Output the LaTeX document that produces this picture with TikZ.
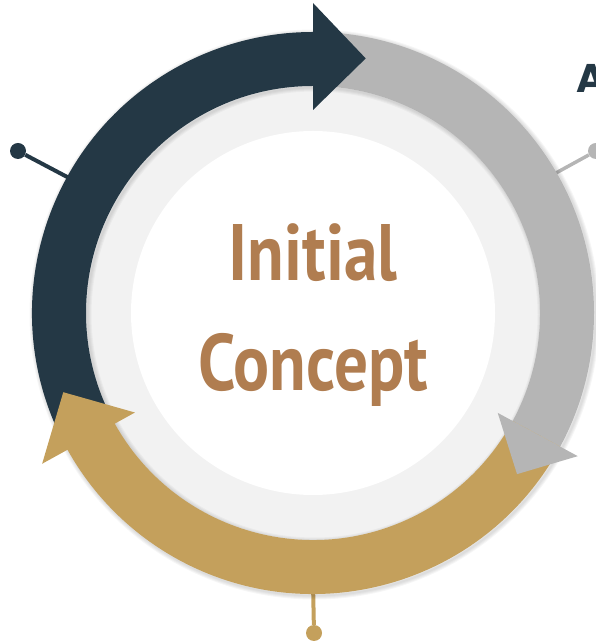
\documentclass[tikz,border=0pt]{standalone}
\usepackage{fontspec}
\newfontfamily\titlefont{PT Sans}[FakeStretch=0.84]
\newfontfamily\headfont{Poppins}
\definecolor{navy}{HTML}{243845}
\definecolor{silver}{HTML}{B5B5B5}
\definecolor{gold}{HTML}{C4A05C}
\definecolor{ringgray}{HTML}{F2F2F2}
\definecolor{bronze}{HTML}{B07D50}

\begin{document}
\begin{tikzpicture}[x=1pt,y=1pt,
  pin/.style={circle,inner sep=0pt,minimum size=16pt},
  title/.style={text=bronze,anchor=base,inner sep=0pt,font=\titlefont\bfseries\fontsize{80}{96}\selectfont}]
\useasboundingbox (0,0) rectangle (595,644);
\begin{scope}[shift={(313,331)}]
  % pins
  \node[pin,fill=navy] (PinNavy) at (-295,162) {};
  \node[pin,fill=silver] (PinSilver) at (283,162) {};
  \node[pin,fill=gold] (PinGold) at (1,-320) {};
  \coordinate (EdgeNavy) at (151:270);
  \coordinate (EdgeSilver) at (30:270);
  \coordinate (EdgeGold) at (-90:270);
  \draw[navy,line width=4pt] (PinNavy) -- (EdgeNavy);
  \draw[silver,line width=3.5pt] (PinSilver) -- (EdgeSilver);
  \draw[gold,line width=4pt] (PinGold) -- (EdgeGold);

  % soft shadow round the ring
  \foreach \w in {2,4,6,8}
    \draw[black,opacity=0.035,line width=\w pt] (1.5,-1.5) circle[radius=281];

  % disks
  \fill[ringgray] (0,0) circle[radius=227];
  \foreach \w in {2,4,6,8}
    \draw[black,opacity=0.03,line width=\w pt] (1.5,-1.5) circle[radius=227];
  \fill[white] (0,0) circle[radius=182];

  % bands
  \fill[navy] (209:281) arc[start angle=209,end angle=90,radius=281]
    -- (90:227) arc[start angle=90,end angle=209,radius=227] -- cycle;
  \fill[silver] (90:281) arc[start angle=90,end angle=-28.4,radius=281]
    -- (-28.4:227) arc[start angle=-28.4,end angle=90,radius=227] -- cycle;
  \fill[gold] (-28.4:281) arc[start angle=-28.4,end angle=-151,radius=281]
    -- (-151:227) arc[start angle=-151,end angle=-28.4,radius=227] -- cycle;

  % heads
  \fill[navy] (90:310) -- (78.3:260) -- (90:203) -- cycle;
  \fill[silver] (-28.4:301) -- (-38.3:260) -- (-28.4:210) -- cycle;
  \fill[gold] (209.1:310) -- (197.6:262) -- (209.2:204) -- cycle;
\end{scope}

\node[title] (Initial) at (313,363) {Initial};
\node[title] (Concept) at (313,253) {Concept};
\node[text=navy,anchor=base west,inner sep=0pt,font=\headfont\bfseries\fontsize{40}{48}\selectfont] (Head) at (576,551) {A};
\end{tikzpicture}
\end{document}
